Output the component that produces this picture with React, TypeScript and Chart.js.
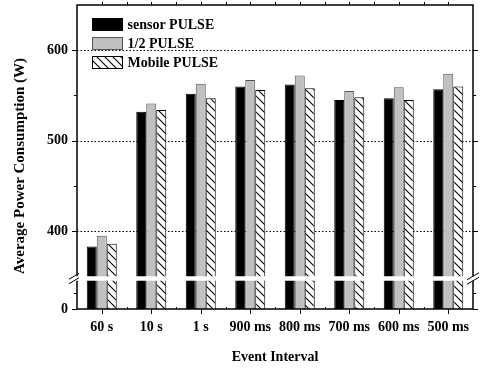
import React, { useEffect, useRef } from "react";
import { Chart, registerables } from "chart.js";

Chart.register(...registerables);

// ---- data ----
const CATEGORIES = ["60 s", "10 s", "1 s", "900 ms", "800 ms", "700 ms", "600 ms", "500 ms"];
const SENSOR_PULSE = [383, 532, 552, 560, 562, 545, 547, 557];
const HALF_PULSE = [395, 541, 563, 567, 572, 555, 559, 574];
const MOBILE_PULSE = [386, 534, 547, 556, 558, 548, 545, 560];
const SERIES_LABELS = ["sensor PULSE", "1/2 PULSE", "Mobile PULSE"];

// ---- broken y axis ----
const Y_MAJOR = [400, 500, 600];
const Y_MINOR = [450, 550];
const AXIS_FLOOR = 314; // drawn as "0" below the break
const LOW_MINOR = 332; // minor tick below the break
const BREAK_AT = 348;
const AXIS_MAX = 650;

const FONT = '"Liberation Serif", "Times New Roman", serif';

function makeHatch(): CanvasPattern | string {
  const s = 8;
  const c = document.createElement("canvas");
  c.width = s;
  c.height = s;
  const g = c.getContext("2d");
  if (!g) return "#fff";
  g.fillStyle = "#fff";
  g.fillRect(0, 0, s, s);
  g.strokeStyle = "#000";
  g.lineWidth = 1.1;
  g.beginPath();
  g.moveTo(-1, -1);
  g.lineTo(s + 1, s + 1);
  g.moveTo(-1, s - 1);
  g.lineTo(1, s + 1);
  g.moveTo(s - 1, -1);
  g.lineTo(s + 1, 1);
  g.stroke();
  return g.createPattern(c, "repeat") || "#fff";
}

export default function App() {
  const ref = useRef<HTMLCanvasElement | null>(null);

  useEffect(() => {
    document.body.style.margin = "0";
    const canvas = ref.current;
    if (!canvas) return;
    const hatch = makeHatch();

    const fills = ["#000000", "#c0c0c0", hatch];
    const borders = ["#000000", "#555555", "#000000"];

    const decor = {
      id: "decor",
      beforeDatasetsDraw(chart: any) {
        const { ctx, chartArea: a, scales } = chart;
        const y = scales.y;
        ctx.save();
        ctx.strokeStyle = "#000";
        ctx.lineWidth = 1;
        ctx.setLineDash([1.5, 2]);
        Y_MAJOR.forEach((v) => {
          const py = Math.round(y.getPixelForValue(v)) + 0.5;
          ctx.beginPath();
          ctx.moveTo(a.left, py);
          ctx.lineTo(a.right, py);
          ctx.stroke();
        });
        ctx.restore();
      },
      afterDatasetsDraw(chart: any) {
        const { ctx, chartArea: a, scales } = chart;
        const y = scales.y;
        const x = scales.x;
        ctx.save();
        // frame
        ctx.strokeStyle = "#000";
        ctx.lineWidth = 1.5;
        ctx.setLineDash([]);
        ctx.strokeRect(a.left, a.top, a.right - a.left, a.bottom - a.top);

        // y ticks (left and right, outward)
        ctx.lineWidth = 1;
        const yTick = (v: number, len: number) => {
          const py = Math.round(y.getPixelForValue(v)) + 0.5;
          ctx.beginPath();
          ctx.moveTo(a.left - len, py);
          ctx.lineTo(a.left, py);
          ctx.moveTo(a.right, py);
          ctx.lineTo(a.right + len, py);
          ctx.stroke();
        };
        [AXIS_FLOOR, ...Y_MAJOR].forEach((v) => yTick(v, 5));
        [LOW_MINOR, ...Y_MINOR].forEach((v) => yTick(v, 3));

        // x ticks
        const n = CATEGORIES.length;
        for (let i = 0; i < n; i++) {
          const px = Math.round(x.getPixelForValue(i)) + 0.5;
          ctx.beginPath();
          ctx.moveTo(px, a.bottom);
          ctx.lineTo(px, a.bottom + 5);
          ctx.moveTo(px, a.top);
          ctx.lineTo(px, a.top - 3);
          ctx.stroke();
        }
        for (let i = 0; i < n - 1; i++) {
          const px =
            Math.round((x.getPixelForValue(i) + x.getPixelForValue(i + 1)) / 2) + 0.5;
          ctx.beginPath();
          ctx.moveTo(px, a.bottom);
          ctx.lineTo(px, a.bottom - 2);
          ctx.moveTo(px, a.top);
          ctx.lineTo(px, a.top - 3);
          ctx.stroke();
        }

        // axis break
        const by = y.getPixelForValue(BREAK_AT);
        const gTop = by - 2;
        const gBot = by + 2.5;
        ctx.fillStyle = "#fff";
        ctx.fillRect(a.left - 10, gTop, a.right - a.left + 20, gBot - gTop);
        ctx.lineWidth = 1;
        ctx.beginPath();
        [gTop, gBot].forEach((e) => {
          ctx.moveTo(a.left - 8, e + 3);
          ctx.lineTo(a.left + 2, e - 3);
          ctx.moveTo(a.right - 6, e + 3.5);
          ctx.lineTo(a.right + 6, e - 3.5);
        });
        ctx.stroke();

        // legend
        ctx.font = `bold 14px ${FONT}`;
        ctx.textBaseline = "middle";
        ctx.textAlign = "left";
        SERIES_LABELS.forEach((label, i) => {
          const bx = a.left + 15.5;
          const byy = a.top + 13.5 + i * 19;
          ctx.fillStyle = fills[i] as any;
          ctx.fillRect(bx, byy, 30, 12);
          ctx.strokeStyle = borders[i];
          ctx.lineWidth = 1;
          ctx.strokeRect(bx, byy, 30, 12);
          ctx.fillStyle = "#000";
          ctx.fillText(label, bx + 35, byy + 6.5);
        });

        // y title
        ctx.font = `bold 15px ${FONT}`;
        ctx.translate(20, 166);
        ctx.rotate(-Math.PI / 2);
        ctx.textAlign = "center";
        ctx.textBaseline = "middle";
        ctx.fillStyle = "#000";
        ctx.fillText("Average Power Consumption (W)", 0, 0);
        ctx.restore();
      },
    };

    const chart = new Chart(canvas, {
      type: "bar",
      data: {
        labels: CATEGORIES,
        datasets: [SENSOR_PULSE, HALF_PULSE, MOBILE_PULSE].map((d, i) => ({
          label: SERIES_LABELS[i],
          data: d,
          backgroundColor: fills[i] as any,
          borderColor: borders[i],
          borderWidth: 1,
          categoryPercentage: 0.606,
          barPercentage: 1,
        })),
      },
      options: {
        responsive: false,
        animation: false,
        devicePixelRatio: 1,
        layout: { padding: { top: 5, right: 7, left: 0, bottom: 0 } },
        plugins: { legend: { display: false }, tooltip: { enabled: false } },
        scales: {
          x: {
            grid: { display: false, drawTicks: false },
            border: { display: false },
            ticks: {
              color: "#000",
              font: { family: FONT, size: 14, weight: "bold" },
              padding: 10,
              maxRotation: 0,
              autoSkip: false,
            },
            title: {
              display: true,
              text: "Event Interval",
              color: "#000",
              font: { family: FONT, size: 14, weight: "bold" },
              padding: { top: 0, bottom: 4 },
            },
            afterFit(scale: any) {
              scale.height = 61;
              scale.paddingLeft = 0;
              scale.paddingRight = 0;
            },
          },
          y: {
            min: AXIS_FLOOR,
            max: AXIS_MAX,
            grid: { display: false, drawTicks: false },
            border: { display: false },
            afterBuildTicks(scale: any) {
              scale.ticks = [AXIS_FLOOR, ...Y_MAJOR].map((v) => ({ value: v }));
            },
            ticks: {
              color: "#000",
              font: { family: FONT, size: 14, weight: "bold" },
              padding: 9,
              callback: (v: any) => (v === AXIS_FLOOR ? "0" : String(v)),
            },
            afterFit(scale: any) {
              scale.width = 77;
              scale.paddingTop = 0;
              scale.paddingBottom = 0;
            },
          },
        },
      },
      plugins: [decor],
    });
    return () => chart.destroy();
  }, []);

  return (
    <div style={{ width: 480, height: 370 }}>
      <canvas ref={ref} width={480} height={370} style={{ display: "block" }} />
    </div>
  );
}
